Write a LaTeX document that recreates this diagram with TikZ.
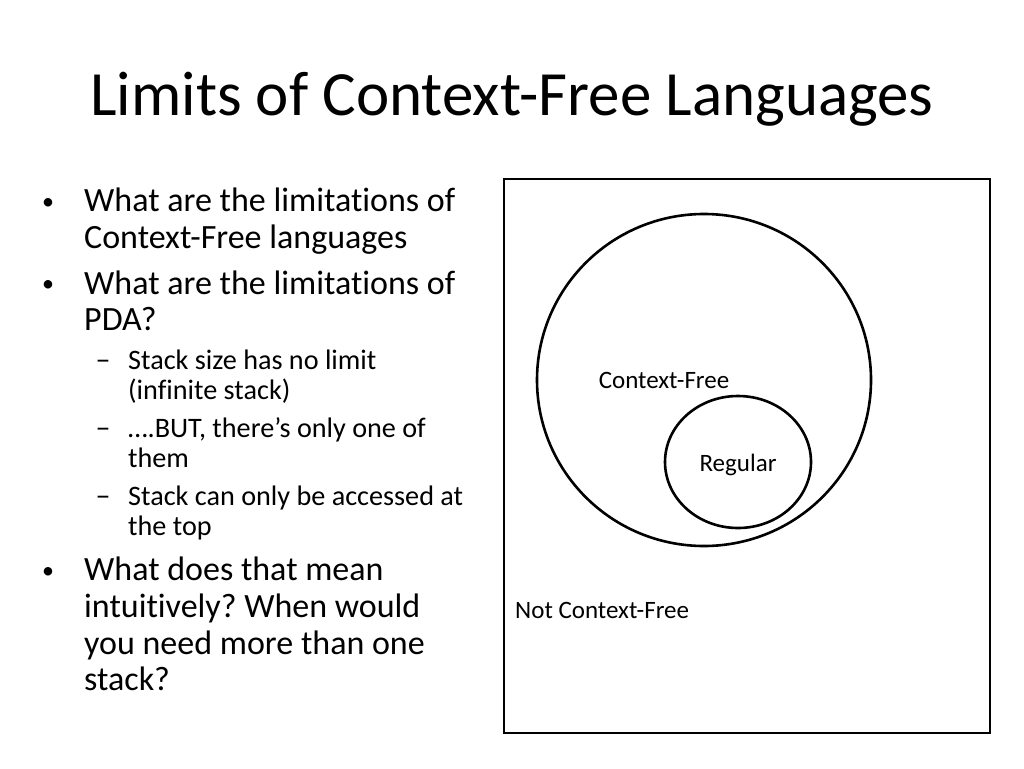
\documentclass[tikz,border=0pt]{standalone}
\usepackage{fontspec}
\setmainfont{Carlito}[Ligatures=NoCommon]
\frenchspacing
\tikzset{
  lvlone/.style={anchor=base west, text width=440pt, align=flush left, inner sep=0pt, font=\fontsize{34}{36.7}\selectfont},
  lvltwo/.style={anchor=base west, text width=380pt, align=flush left, inner sep=0pt, font=\fontsize{28.2}{30.8}\selectfont},
  onemark/.style={anchor=base, inner sep=0pt, font=\fontsize{24}{28}\selectfont},
  twomark/.style={anchor=base, inner sep=0pt, font=\fontsize{30}{30}\selectfont},
  setlabel/.style={anchor=base, inner sep=0pt, font=\fontsize{25}{28}\selectfont},
  setline/.style={line width=2.6pt}
}
\begin{document}
\begin{tikzpicture}[x=1pt,y=-1pt]
\useasboundingbox (0,0) rectangle (1024,768);
\node[anchor=base, inner sep=0pt, font=\fontsize{63}{70}\selectfont] (title) at (512,115.7) {Limits of Context-Free Languages};
\node[lvlone] (b1) at (84,211.7) {What are the limitations of\\Context-Free languages};
\node[lvlone] (b2) at (84,294) {What are the limitations of\\PDA?};
\node[lvltwo] (s1) at (128,369) {Stack size has no limit\\(infinite stack)};
\node[lvltwo] (s2) at (128,437) {\dots.BUT, there’s only one of\\them};
\node[lvltwo] (s3) at (128,505) {Stack can only be accessed at\\the top};
\node[lvlone] (b3) at (84,580.7) {What does that mean\\intuitively? When would\\you need more than one\\stack?};
\node[onemark] (m1) at (48,209) {•};
\node[onemark] (m2) at (48,291.3) {•};
\node[onemark] (m3) at (48,578) {•};
\node[twomark] (d1) at (103,369) {–};
\node[twomark] (d2) at (103,437) {–};
\node[twomark] (d3) at (103,505) {–};
\draw[setline] (504,179) rectangle (990,733);
\draw[setline] (704,380) ellipse (167 and 166);
\draw[setline] (738,462) ellipse (73 and 66);
\node[setlabel] (cfl) at (664,388) {Context-Free};
\node[setlabel] (reg) at (738,471) {Regular};
\node[setlabel, anchor=base west] (ncf) at (515,618) {Not Context-Free};
\end{tikzpicture}
\end{document}
